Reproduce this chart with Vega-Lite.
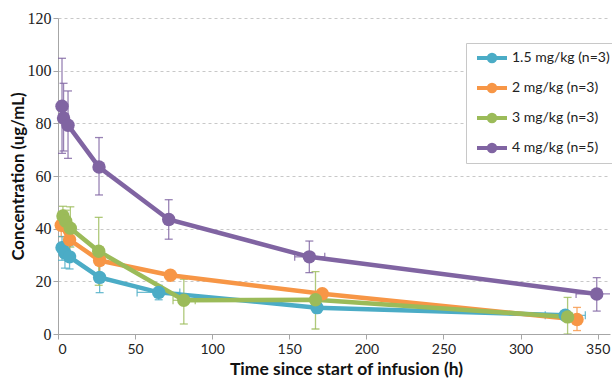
{
  "$schema": "https://vega.github.io/schema/vega-lite/v6.json",
  "width": 552,
  "height": 316,
  "autosize": "none",
  "padding": {"left": 58, "top": 18, "right": 2, "bottom": 50},
  "background": "white",
  "config": {"view": {"stroke": null}},
  "data": {"values": [
    {"s": "1.5 mg/kg (n=3)", "t": 2.6, "c": 32.8, "lo": 28, "hi": 37},
    {"s": "1.5 mg/kg (n=3)", "t": 4.5, "c": 30.8, "lo": 25, "hi": 35},
    {"s": "1.5 mg/kg (n=3)", "t": 7.5, "c": 29.3, "lo": 24.7, "hi": 33.5},
    {"s": "1.5 mg/kg (n=3)", "t": 27, "c": 21.5, "lo": 15.7, "hi": 27},
    {"s": "1.5 mg/kg (n=3)", "t": 65.3, "c": 15.8, "lo": 13, "hi": 18.5, "tlo": 51.3, "thi": 79},
    {"s": "1.5 mg/kg (n=3)", "t": 168, "c": 10, "lo": 8, "hi": 12},
    {"s": "1.5 mg/kg (n=3)", "t": 329, "c": 7.1, "lo": 5.5, "hi": 8.7, "tlo": 316, "thi": 342},
    {"s": "2 mg/kg (n=3)", "t": 2.1, "c": 41.3, "lo": 37, "hi": 45},
    {"s": "2 mg/kg (n=3)", "t": 7.5, "c": 35.8, "lo": 31, "hi": 40},
    {"s": "2 mg/kg (n=3)", "t": 27, "c": 27.9, "lo": 22, "hi": 33},
    {"s": "2 mg/kg (n=3)", "t": 72.9, "c": 22.3, "lo": 21, "hi": 23.5},
    {"s": "2 mg/kg (n=3)", "t": 171.4, "c": 15.3, "lo": 14, "hi": 16.5},
    {"s": "2 mg/kg (n=3)", "t": 336.6, "c": 5.5, "lo": 1.3, "hi": 10.1},
    {"s": "3 mg/kg (n=3)", "t": 3.2, "c": 44.8, "lo": 41, "hi": 48.5},
    {"s": "3 mg/kg (n=3)", "t": 5, "c": 42.8, "lo": 39, "hi": 47},
    {"s": "3 mg/kg (n=3)", "t": 8, "c": 40.2, "lo": 33, "hi": 48.3},
    {"s": "3 mg/kg (n=3)", "t": 26.4, "c": 31.4, "lo": 18.5, "hi": 44.3},
    {"s": "3 mg/kg (n=3)", "t": 81.6, "c": 12.8, "lo": 3.8, "hi": 20.8, "tlo": 74.6, "thi": 89},
    {"s": "3 mg/kg (n=3)", "t": 167, "c": 13.0, "lo": 1.9, "hi": 23.7},
    {"s": "3 mg/kg (n=3)", "t": 330.5, "c": 6.5, "lo": 0, "hi": 13.9},
    {"s": "4 mg/kg (n=5)", "t": 2.6, "c": 86.5, "lo": 68.6, "hi": 104.7},
    {"s": "4 mg/kg (n=5)", "t": 3.6, "c": 82, "lo": 69.5, "hi": 95.2},
    {"s": "4 mg/kg (n=5)", "t": 6.5, "c": 79.3, "lo": 66.7, "hi": 92.3},
    {"s": "4 mg/kg (n=5)", "t": 26.6, "c": 63.4, "lo": 52.8, "hi": 74.6},
    {"s": "4 mg/kg (n=5)", "t": 71.8, "c": 43.5, "lo": 36, "hi": 51},
    {"s": "4 mg/kg (n=5)", "t": 163, "c": 29.3, "lo": 23.3, "hi": 35.3, "tlo": 153.5, "thi": 173},
    {"s": "4 mg/kg (n=5)", "t": 349.4, "c": 15.2, "lo": 8.7, "hi": 21.4, "tlo": 336, "thi": 363}
  ]},
  "encoding": {
    "color": {
      "field": "s", "type": "nominal",
      "scale": {
        "domain": ["1.5 mg/kg (n=3)", "2 mg/kg (n=3)", "3 mg/kg (n=3)", "4 mg/kg (n=5)"],
        "range": ["#4bacc6", "#f79646", "#9bbb59", "#8064a2"]
      },
      "legend": {
        "title": null,
        "orient": "none",
        "legendX": 408,
        "legendY": 25,
        "fillColor": "white",
        "strokeColor": "#c8c8c8",
        "padding": 3,
        "rowPadding": 6,
        "symbolOffset": 11,
        "symbolType": "M-1.5,0H1.5M-0.33,0A0.33,0.33,0,1,1,0.33,0A0.33,0.33,0,1,1,-0.33,0Z",
        "symbolSize": 400,
        "symbolStrokeWidth": 4,
        "labelFont": "Lato",
        "labelFontSize": 14,
        "labelColor": "#222222",
        "labelOffset": 8,
        "encode": {"symbols": {"update": {
          "fill": {"scale": "color", "field": "value"},
          "stroke": {"scale": "color", "field": "value"},
          "opacity": {"value": 1}
        }}}
      }
    }
  },
  "layer": [
    {
      "transform": [{"filter": "isValid(datum.lo)"}],
      "mark": {"type": "rule", "strokeWidth": 1.3, "opacity": 0.8, "clip": true},
      "encoding": {
        "x": {"field": "t", "type": "quantitative", "scale": {"domain": [0, 358], "nice": false},
          "axis": {"values": [0, 50, 100, 150, 200, 250, 300, 350], "grid": false, "domainColor": "#a6a6a6", "tickColor": "#a6a6a6", "tickSize": 5,
            "labelFont": "Lato", "labelFontSize": 14, "labelColor": "#222222", "labelPadding": 3,
            "title": "Time since start of infusion (h)", "titleFont": "Lato", "titleFontSize": 17.5, "titleFontWeight": "bold", "titleColor": "#111111",
            "titleX": 288, "titleY": 40, "titleBaseline": "alphabetic", "titleAlign": "center"}},
        "y": {"field": "lo", "type": "quantitative", "scale": {"domain": [0, 120], "nice": false},
          "axis": {"values": [0, 20, 40, 60, 80, 100, 120], "grid": true, "gridDash": [3, 3], "gridColor": "#c8c8c8", "domainColor": "#a6a6a6", "tickColor": "#a6a6a6", "tickSize": 5,
            "labelFont": "Liberation Serif", "labelFontSize": 16, "labelColor": "#222222", "labelPadding": 2,
            "title": "Concentration (ug/mL)", "titleFont": "Lato", "titleFontSize": 16.8, "titleFontWeight": "bold", "titleColor": "#111111",
            "titleX": -40, "titleY": 158, "titleAlign": "center", "titleBaseline": "middle"}},
        "y2": {"field": "hi"}
      }
    },
    {
      "transform": [{"filter": "isValid(datum.lo)"}],
      "mark": {"type": "tick", "orient": "horizontal", "size": 8, "thickness": 1.3, "opacity": 0.8, "clip": true},
      "encoding": {"x": {"field": "t", "type": "quantitative"}, "y": {"field": "lo", "type": "quantitative"}}
    },
    {
      "transform": [{"filter": "isValid(datum.hi)"}],
      "mark": {"type": "tick", "orient": "horizontal", "size": 8, "thickness": 1.3, "opacity": 0.8, "clip": true},
      "encoding": {"x": {"field": "t", "type": "quantitative"}, "y": {"field": "hi", "type": "quantitative"}}
    },
    {
      "transform": [{"filter": "isValid(datum.tlo)"}],
      "mark": {"type": "rule", "strokeWidth": 1.3, "opacity": 0.8, "clip": true},
      "encoding": {"x": {"field": "tlo", "type": "quantitative"}, "x2": {"field": "thi"}, "y": {"field": "c", "type": "quantitative"}}
    },
    {
      "transform": [{"filter": "isValid(datum.tlo)"}],
      "mark": {"type": "tick", "orient": "vertical", "size": 8, "thickness": 1.3, "opacity": 0.8, "clip": true},
      "encoding": {"x": {"field": "tlo", "type": "quantitative"}, "y": {"field": "c", "type": "quantitative"}}
    },
    {
      "transform": [{"filter": "isValid(datum.thi)"}],
      "mark": {"type": "tick", "orient": "vertical", "size": 8, "thickness": 1.3, "opacity": 0.8, "clip": true},
      "encoding": {"x": {"field": "thi", "type": "quantitative"}, "y": {"field": "c", "type": "quantitative"}}
    },
    {
      "mark": {"type": "line", "strokeWidth": 4.5},
      "encoding": {"x": {"field": "t", "type": "quantitative"}, "y": {"field": "c", "type": "quantitative"}, "order": {"field": "t"}}
    },
    {
      "mark": {"type": "point", "filled": true, "size": 180, "opacity": 1, "shape": "circle"},
      "encoding": {"x": {"field": "t", "type": "quantitative"}, "y": {"field": "c", "type": "quantitative"}}
    }
  ]
}
